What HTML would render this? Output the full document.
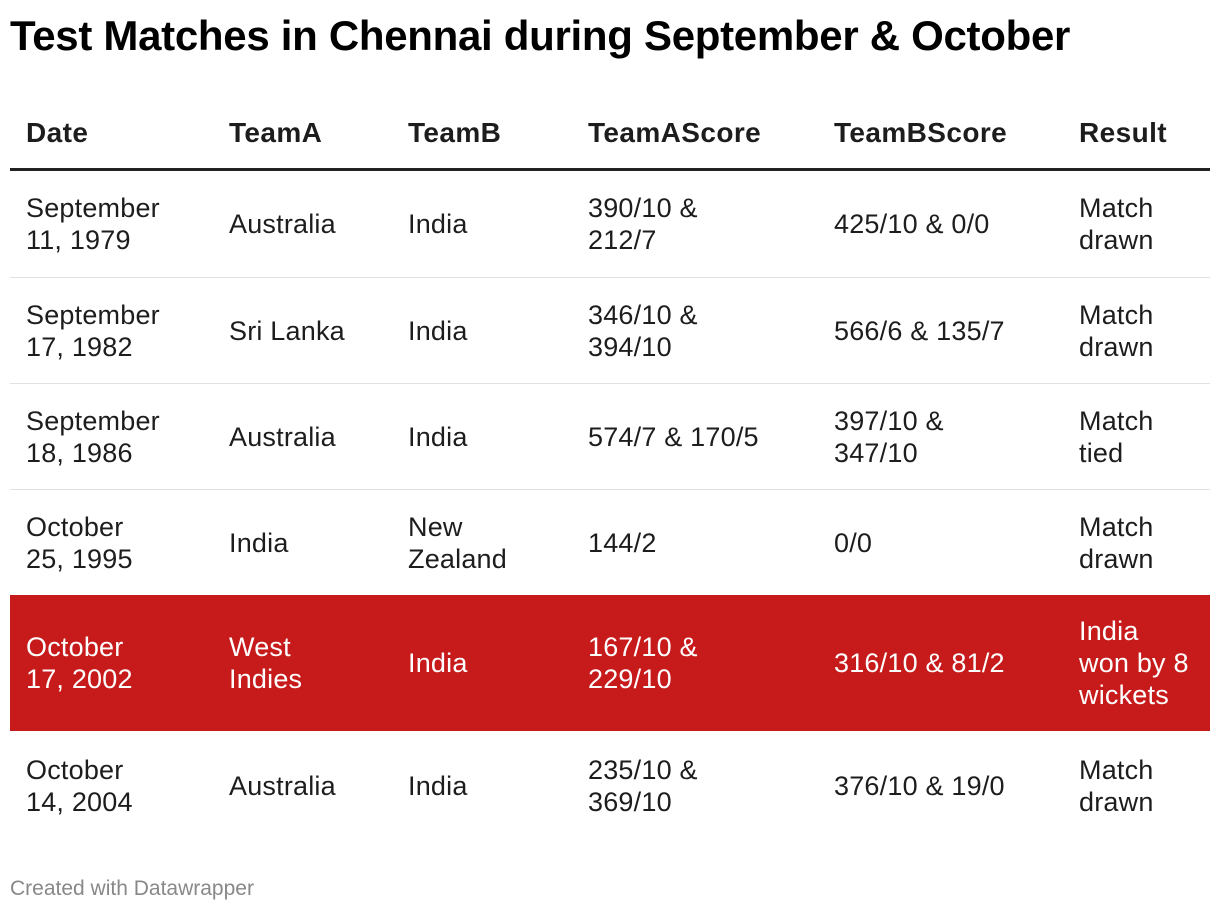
<!DOCTYPE html>
<html><head><meta charset="utf-8"><style>
body{margin:0;width:1220px;height:914px;background:#fff;font-family:"Liberation Sans",Arial,sans-serif;color:#1d1d1d;position:relative;overflow:hidden}
.t{position:absolute;left:10px;top:12px;font-size:42px;font-weight:bold;color:#000;letter-spacing:-0.3px}
.h{position:absolute;top:116px;font-size:28px;font-weight:bold;line-height:34px;letter-spacing:0.4px}
.line{position:absolute;left:10px;width:1200px}
.row{position:absolute;left:10px;width:1200px;border-bottom:1px solid #e2e2e2}
.c{position:absolute;top:50%;transform:translateY(-50%);font-size:27px;line-height:32px;white-space:nowrap;letter-spacing:0.2px}
.red{background:#c71b1b;color:#fff;border-bottom:none}
.f{position:absolute;left:10px;top:877px;font-size:21px;color:#888}
</style></head><body>
<div class="t">Test Matches in Chennai during September &amp; October</div>
<div class="h" style="left:26px">Date</div>
<div class="h" style="left:229px">TeamA</div>
<div class="h" style="left:408px">TeamB</div>
<div class="h" style="left:588px">TeamAScore</div>
<div class="h" style="left:834px">TeamBScore</div>
<div class="h" style="left:1079px">Result</div>
<div class="line" style="top:168px;height:3px;background:#222"></div>

<div class="row" style="top:171px;height:106px">
<div class="c" style="left:16px">September<br>11, 1979</div>
<div class="c" style="left:219px">Australia</div>
<div class="c" style="left:398px">India</div>
<div class="c" style="left:578px">390/10 &amp;<br>212/7</div>
<div class="c" style="left:824px">425/10 &amp; 0/0</div>
<div class="c" style="left:1069px">Match<br>drawn</div>
</div>
<div class="row" style="top:278px;height:105px">
<div class="c" style="left:16px">September<br>17, 1982</div>
<div class="c" style="left:219px">Sri Lanka</div>
<div class="c" style="left:398px">India</div>
<div class="c" style="left:578px">346/10 &amp;<br>394/10</div>
<div class="c" style="left:824px">566/6 &amp; 135/7</div>
<div class="c" style="left:1069px">Match<br>drawn</div>
</div>
<div class="row" style="top:384px;height:105px">
<div class="c" style="left:16px">September<br>18, 1986</div>
<div class="c" style="left:219px">Australia</div>
<div class="c" style="left:398px">India</div>
<div class="c" style="left:578px">574/7 &amp; 170/5</div>
<div class="c" style="left:824px">397/10 &amp;<br>347/10</div>
<div class="c" style="left:1069px">Match<br>tied</div>
</div>
<div class="row" style="top:490px;height:105px">
<div class="c" style="left:16px">October<br>25, 1995</div>
<div class="c" style="left:219px">India</div>
<div class="c" style="left:398px">New<br>Zealand</div>
<div class="c" style="left:578px">144/2</div>
<div class="c" style="left:824px">0/0</div>
<div class="c" style="left:1069px">Match<br>drawn</div>
</div>
<div class="row red" style="top:595px;height:136px">
<div class="c" style="left:16px">October<br>17, 2002</div>
<div class="c" style="left:219px">West<br>Indies</div>
<div class="c" style="left:398px">India</div>
<div class="c" style="left:578px">167/10 &amp;<br>229/10</div>
<div class="c" style="left:824px">316/10 &amp; 81/2</div>
<div class="c" style="left:1069px">India<br>won by 8<br>wickets</div>
</div>
<div class="row" style="top:731px;height:110px;border-bottom:none">
<div class="c" style="left:16px">October<br>14, 2004</div>
<div class="c" style="left:219px">Australia</div>
<div class="c" style="left:398px">India</div>
<div class="c" style="left:578px">235/10 &amp;<br>369/10</div>
<div class="c" style="left:824px">376/10 &amp; 19/0</div>
<div class="c" style="left:1069px">Match<br>drawn</div>
</div>
<div class="f">Created with Datawrapper</div>
</body></html>
